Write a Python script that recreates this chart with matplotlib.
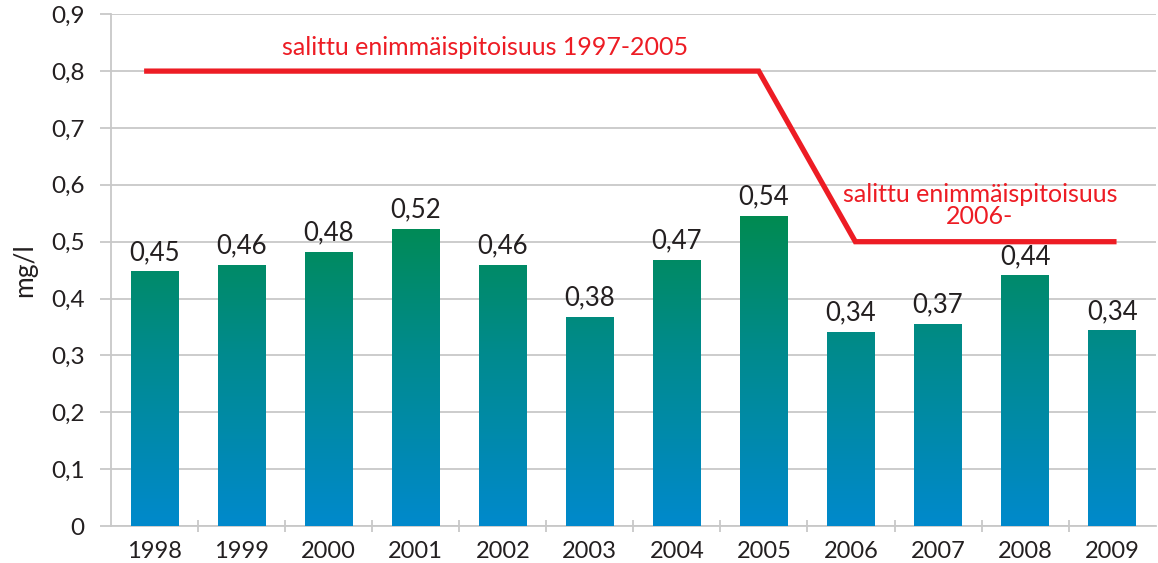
import matplotlib
matplotlib.use("Agg")
import matplotlib.pyplot as plt
import numpy as np
from matplotlib.colors import LinearSegmentedColormap, Normalize

plt.rcParams['font.family'] = ['Lato', 'DejaVu Sans']

years = ['1998', '1999', '2000', '2001', '2002', '2003', '2004', '2005', '2006', '2007', '2008', '2009']
values = [0.447, 0.458, 0.481, 0.522, 0.458, 0.367, 0.467, 0.544, 0.341, 0.355, 0.440, 0.343]
value_labels = ['0,45', '0,46', '0,48', '0,52', '0,46', '0,38', '0,47', '0,54', '0,34', '0,37', '0,44', '0,34']
limit_old = 0.8   # 1997-2005
limit_new = 0.5   # 2006-
limit_text_old = 'salittu enimmäispitoisuus 1997-2005'
limit_text_new = 'salittu enimmäispitoisuus\n2006-'
y_ticks = [0, 0.1, 0.2, 0.3, 0.4, 0.5, 0.6, 0.7, 0.8, 0.9]
y_tick_labels = ['0', '0,1', '0,2', '0,3', '0,4', '0,5', '0,6', '0,7', '0,8', '0,9']
y_label = 'mg/l'

TEXT = '#231f20'
RED = '#ED1C24'
GRID = '#c8c8c8'

fig = plt.figure(figsize=(11.58, 5.63), dpi=100)
ax = fig.add_axes([0.0959, 0.0657, 0.9021, 0.909])

x = np.arange(len(years))
width = 0.55
cmap = LinearSegmentedColormap.from_list('bg', [(0.0, '#0089CC'), (0.55, '#008B8E'), (1.0, '#008A50')])
norm = Normalize(0, 0.55)

bars = ax.bar(x, values, width=width, color='none', edgecolor='none', zorder=3)
for b, v in zip(bars, values):
    x0 = b.get_x()
    grad = np.linspace(0, v, 200).reshape(-1, 1)
    ax.imshow(grad, cmap=cmap, norm=norm, extent=(x0, x0 + width, 0, v),
              origin='lower', aspect='auto', zorder=3, interpolation='bilinear')

for xi, v, lab in zip(x, values, value_labels):
    ax.annotate(lab, (xi, v), xytext=(0, 5), textcoords='offset points',
                ha='center', va='bottom', fontsize=18.5, color=TEXT, zorder=5)

# limit line
lx = [x[0] - 0.09, x[7] - 0.06, x[8] + 0.05, x[11] + 0.02]
ly = [limit_old, limit_old, limit_new, limit_new]
ax.plot(lx, ly, color=RED, lw=3.8, solid_joinstyle='miter', zorder=4)
ax.text(3.8, limit_old + 0.042, limit_text_old, ha='center', va='center',
        fontsize=18, color=RED, zorder=5)
ax.text(9.48, limit_new + 0.064, limit_text_new, ha='center', va='center',
        fontsize=18, color=RED, linespacing=0.95, zorder=5)

ax.set_xlim(-0.5, len(years) - 0.5)
ax.set_ylim(0, 0.9)
ax.set_yticks(y_ticks)
ax.set_yticklabels(y_tick_labels)
ax.set_xticks(x)
ax.set_xticklabels(years)
ax.set_xticks(np.arange(-0.5, len(years) - 0.5, 1.0)[1:], minor=True)

ax.grid(axis='y', color=GRID, lw=1.3, zorder=0)
ax.set_axisbelow(True)
for s in ['top', 'right']:
    ax.spines[s].set_visible(False)
for s in ['left', 'bottom']:
    ax.spines[s].set_color(GRID)
    ax.spines[s].set_linewidth(1.3)

ax.tick_params(axis='y', length=8, width=1.3, color=GRID, pad=11, labelsize=17.5, labelcolor=TEXT)
ax.tick_params(axis='x', which='major', length=0, pad=11, labelsize=17, labelcolor=TEXT)
ax.tick_params(axis='x', which='minor', length=9, width=1.3, color=GRID, direction='inout')

ax.set_ylabel(y_label, fontsize=19, color=TEXT, labelpad=10)

fig.savefig('out.png', dpi=100)
